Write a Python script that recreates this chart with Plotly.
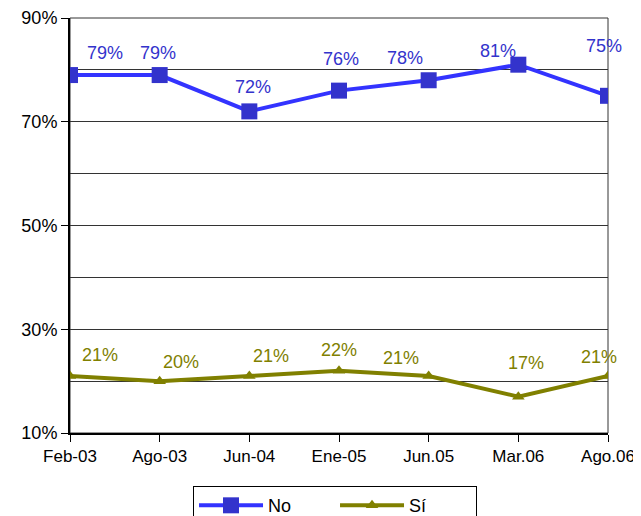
import plotly.graph_objects as go

periodos = ["Feb-03", "Ago-03", "Jun-04", "Ene-05", "Jun.05", "Mar.06", "Ago.06"]
no_vals = [79, 79, 72, 76, 78, 81, 75]
si_vals = [21, 20, 21, 22, 21, 17, 21]

# label offsets in pixels (as placed in the original)
no_shift = [(35, 22), (-2, 22), (4, 24), (2, 32), (-24, 22), (-20, 14), (-4, 50)]
si_shift = [(30, 21), (21, 19), (22, 20), (0, 21), (-28, 18), (8, 34), (-9, 19)]

font = "Liberation Sans, Arial, sans-serif"
azul_linea = "#3333FF"
azul = "#3333CC"
oliva = "#808000"

fig = go.Figure()
fig.add_trace(go.Scatter(
    x=periodos, y=no_vals, name="No", mode="lines+markers",
    line=dict(color=azul_linea, width=4),
    marker=dict(symbol="square", size=16, color=azul)
))
fig.add_trace(go.Scatter(
    x=periodos, y=si_vals, name="Sí", mode="lines+markers",
    line=dict(color=oliva, width=4),
    marker=dict(symbol="triangle-up", size=11, color=oliva)
))

for p, v, (dx, dy) in zip(periodos, no_vals, no_shift):
    fig.add_annotation(x=p, y=v, text=f"{v}%", showarrow=False,
                       xshift=dx, yshift=dy, font=dict(color=azul, size=18, family=font))
for p, v, (dx, dy) in zip(periodos, si_vals, si_shift):
    fig.add_annotation(x=p, y=v, text=f"{v}%", showarrow=False,
                       xshift=dx, yshift=dy, font=dict(color=oliva, size=18, family=font))

fig.add_shape(type="rect", xref="paper", yref="paper", x0=0, y0=0, x1=1, y1=1,
              line=dict(color="#333333", width=1), layer="below")

fig.update_layout(
    width=633, height=508,
    margin=dict(l=62, r=33, t=10, b=83, autoexpand=False),
    plot_bgcolor="white", paper_bgcolor="white",
    font=dict(family=font, size=18, color="black"),
    showlegend=True,
    legend=dict(
        orientation="h", x=0.4926, xanchor="center", y=-0.128, yanchor="top",
        bordercolor="black", borderwidth=1, entrywidth=62, itemwidth=64,
        font=dict(size=18, color="black")
    ),
    xaxis=dict(
        type="category", range=[0, 6],
        showline=True, linecolor="black", linewidth=2,
        ticks="outside", ticklen=7, tickcolor="black",
        showgrid=False, tickfont=dict(size=17)
    ),
    yaxis=dict(
        range=[10, 90], tickvals=[10, 30, 50, 70, 90],
        ticktext=["10%", "30%", "50%", "70%", "90%"],
        showline=True, linecolor="black", linewidth=2,
        ticks="outside", ticklen=7, tickcolor="black",
        showgrid=True, gridcolor="#333333", gridwidth=1,
        minor=dict(dtick=10, tick0=10, showgrid=True, gridcolor="#333333", gridwidth=1),
        zeroline=False, tickfont=dict(size=18)
    ),
)

fig.write_html("out.html")
